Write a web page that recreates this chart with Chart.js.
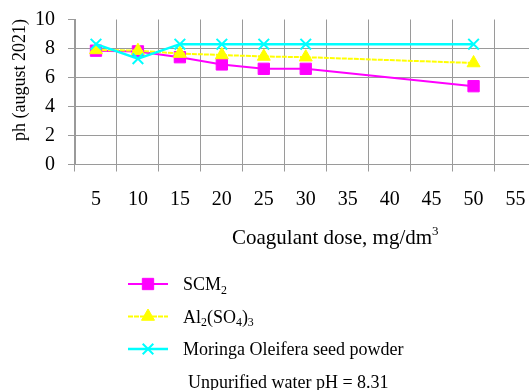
<!DOCTYPE html>
<html>
<head>
<meta charset="utf-8">
<script src="https://cdn.jsdelivr.net/npm/chart.js@4.4.1/dist/chart.umd.min.js"></script>
<style>
  html, body { margin: 0; padding: 0; background: #fff; overflow: hidden; width: 529px; height: 390px; }
  canvas { display: block; }
</style>
</head>
<body>
<canvas id="c" width="546" height="390"></canvas>
<script>
// ---- data ----
const categories = ['5', '10', '15', '20', '25', '30', '35', '40', '45', '50', '55'];
const scm2Values = [7.85, 7.8, 7.4, 6.9, 6.6, 6.6, null, null, null, 5.4, null];
const alumValues = [7.9, 7.85, 7.65, 7.55, 7.45, 7.4, null, null, null, 7.0, null];
const moringaValues = [8.3, 7.3, 8.3, 8.3, 8.3, 8.3, null, null, null, 8.3, null];
const seriesLabels = ['SCM₂', 'Al₂(SO₄)₃', 'Moringa Oleifera seed powder'];
const yTickMin = 0, yTickMax = 10, yTickStep = 2;
const yTitle = 'ph (august 2021)';
const xTitle = 'Coagulant dose, mg/dm³';
const noteText = 'Unpurified water pH = 8.31';

// ---- styles ----
const FONT = '"Liberation Serif", "Times New Roman", serif';
const GRID = '#9a9a9a';
const MAGENTA = '#ff00ff', YELLOW = '#ffff00', CYAN = '#00ffff';

const SUB = {'₀':'0','₁':'1','₂':'2','₃':'3','₄':'4','₅':'5','₆':'6','₇':'7','₈':'8','₉':'9'};
const SUP = {'¹':'1','²':'2','³':'3'};

function drawRich(ctx, text, x, y, size) {
  const runs = [];
  for (const ch of text) {
    const kind = SUB[ch] ? 'sub' : (SUP[ch] ? 'sup' : 'n');
    const c = SUB[ch] || SUP[ch] || ch;
    if (runs.length && runs[runs.length - 1].kind === kind) runs[runs.length - 1].t += c;
    else runs.push({kind, t: c});
  }
  let cx = x;
  ctx.textAlign = 'left';
  ctx.textBaseline = 'alphabetic';
  for (const r of runs) {
    let s = size, dy = 0;
    if (r.kind === 'sub') { s = size * 0.66; dy = size * 0.2; }
    if (r.kind === 'sup') { s = size * 0.62; dy = -size * 0.42; }
    ctx.font = s + 'px ' + FONT;
    ctx.fillText(r.t, cx, y + dy);
    cx += ctx.measureText(r.t).width;
  }
}

const extras = {
  id: 'extras',
  afterDraw(chart) {
    const ctx = chart.ctx;
    ctx.save();
    ctx.fillStyle = '#000';
    // y axis title
    ctx.save();
    ctx.translate(25, 80);
    ctx.rotate(-Math.PI / 2);
    ctx.font = '18px ' + FONT;
    ctx.textAlign = 'center';
    ctx.textBaseline = 'alphabetic';
    ctx.fillText(yTitle, 0, 0);
    ctx.restore();
    // x axis title
    drawRich(ctx, xTitle, 232, 244, 21);
    // legend
    const rowY = [284, 316.5, 349];
    chart.data.datasets.forEach((ds, i) => {
      const y = rowY[i];
      ctx.save();
      ctx.strokeStyle = ds.borderColor;
      ctx.lineWidth = ds.borderWidth;
      ctx.setLineDash(ds.borderDash || []);
      ctx.beginPath();
      ctx.moveTo(128, y);
      ctx.lineTo(168, y);
      ctx.stroke();
      ctx.setLineDash([]);
      ctx.fillStyle = ds.pointBackgroundColor;
      ctx.strokeStyle = ds.pointBorderColor;
      ctx.lineWidth = ds.pointBorderWidth;
      Chart.helpers.drawPoint(ctx, {pointStyle: ds.pointStyle, radius: ds.pointRadius, rotation: 0, borderWidth: ds.pointBorderWidth}, 148, y);
      ctx.restore();
      ctx.fillStyle = '#000';
      drawRich(ctx, ds.label, 183, y + 6, 18);
    });
    // note
    ctx.font = '18px ' + FONT;
    ctx.textAlign = 'left';
    ctx.fillText(noteText, 188, 388);
    ctx.restore();
  }
};

new Chart(document.getElementById('c'), {
  type: 'line',
  data: {
    labels: categories,
    datasets: [
      {
        label: seriesLabels[0], data: scm2Values, order: 3,
        borderColor: MAGENTA, backgroundColor: MAGENTA, borderWidth: 2,
        pointStyle: 'rect', pointRadius: 8, pointBackgroundColor: MAGENTA, pointBorderColor: MAGENTA, pointBorderWidth: 1,
        spanGaps: true, tension: 0
      },
      {
        label: seriesLabels[1], data: alumValues, order: 2,
        borderColor: YELLOW, backgroundColor: YELLOW, borderWidth: 2, borderDash: [5, 1],
        pointStyle: 'triangle', pointRadius: 7.5, pointBackgroundColor: YELLOW, pointBorderColor: YELLOW, pointBorderWidth: 1,
        spanGaps: true, tension: 0
      },
      {
        label: seriesLabels[2], data: moringaValues, order: 1,
        borderColor: CYAN, backgroundColor: CYAN, borderWidth: 2.5,
        pointStyle: 'crossRot', pointRadius: 7.5, pointBackgroundColor: CYAN, pointBorderColor: CYAN, pointBorderWidth: 2,
        spanGaps: true, tension: 0
      }
    ]
  },
  options: {
    responsive: false,
    animation: false,
    devicePixelRatio: 1,
    layout: { padding: { top: 19.5, left: 0, right: 0, bottom: 0 } },
    plugins: { legend: { display: false }, tooltip: { enabled: false } },
    scales: {
      x: {
        type: 'category',
        offset: true,
        grid: { offset: true, color: GRID, tickColor: GRID, lineWidth: 1, tickLength: 7, drawTicks: true },
        border: { color: GRID, width: 1 },
        ticks: { font: { family: FONT, size: 20 }, color: '#000', padding: 16, maxRotation: 0, autoSkip: false },
        afterFit(s) { s.height = 390 - 164.5; s.paddingLeft = 0; s.paddingRight = 0; }
      },
      y: {
        min: yTickMin, max: yTickMax,
        grid: {
          color: c => (c.tick && c.tick.value === yTickMax) ? 'rgba(0,0,0,0)' : GRID,
          tickColor: GRID, lineWidth: 1, tickLength: 7
        },
        border: { color: GRID, width: 1 },
        ticks: { stepSize: yTickStep, font: { family: FONT, size: 20 }, color: '#000', padding: 13 },
        afterFit(s) { s.width = 75; s.paddingTop = 0; s.paddingBottom = 0; }
      }
    }
  },
  plugins: [extras]
});
</script>
</body>
</html>
